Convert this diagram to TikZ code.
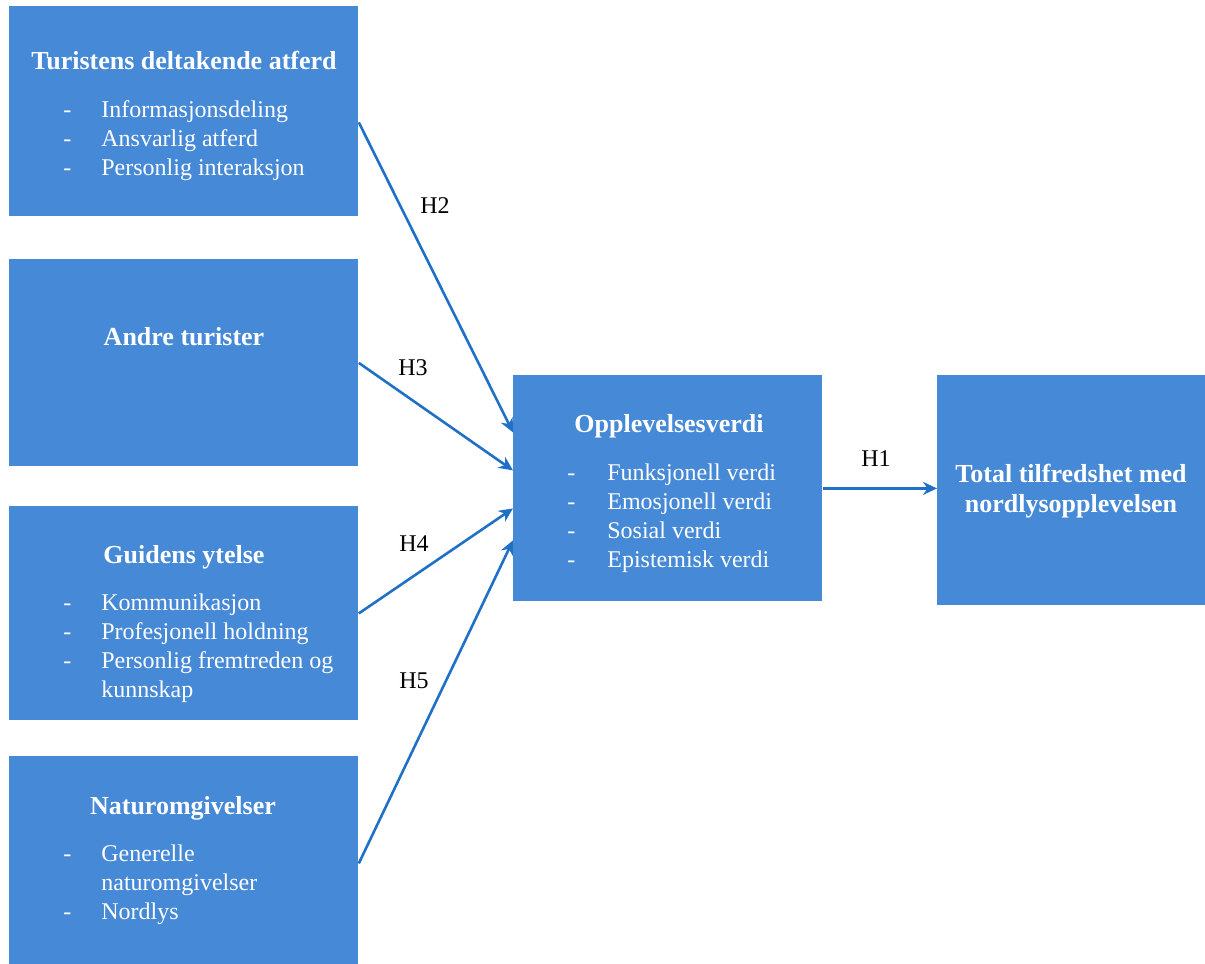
\documentclass[tikz,border=0pt]{standalone}
\usepackage{fontspec}
\setmainfont{Liberation Serif}
\usetikzlibrary{arrows.meta}

\definecolor{boxblue}{HTML}{4689D6}
\definecolor{arrowblue}{HTML}{1F70C6}

\begin{document}
\begin{tikzpicture}[x=0.5pt, y=-0.5pt,
	box/.style={fill=boxblue, draw=none, inner sep=0pt, anchor=north west},
	title/.style={anchor=base, text=white, inner sep=0pt, font=\fontsize{13}{15}\selectfont\bfseries},
	items/.style={anchor=base west, text=white, inner sep=0pt, font=\fontsize{12}{14.5}\selectfont},
	hyp/.style={anchor=base, inner sep=0pt, font=\fontsize{12}{14.5}\selectfont},
	link/.style={line width=1.3pt, -{Stealth[length=7pt, width=6.5pt]}, color=arrowblue}]
	\useasboundingbox (0,0) rectangle (1205,964);
	%
	% boxes
	\node[box, minimum width=174.5pt, minimum height=105pt] (tur) at (9,6) {};
	\node[box, minimum width=174.5pt, minimum height=103.5pt] (andre) at (9,259) {};
	\node[box, minimum width=174.5pt, minimum height=107pt] (guide) at (9,506) {};
	\node[box, minimum width=174.5pt, minimum height=107pt] (natur) at (9,756) {};
	\node[box, minimum width=154.5pt, minimum height=113pt] (opp) at (513,375) {};
	\node[box, minimum width=134pt, minimum height=115pt] (tot) at (937,375) {};
	%
	% titles
	\node[title] (tur-t) at (184,69) {Turistens deltakende atferd};
	\node[title] (andre-t) at (184,345) {Andre turister};
	\node[title] (guide-t) at (184,563) {Guidens ytelse};
	\node[title] (natur-t) at (183,814) {Naturomgivelser};
	\node[title] (opp-t) at (669,432) {Opplevelsesverdi};
	\node[title, align=center] (tot-t) at (1071,512) {Total tilfredshet med\\nordlysopplevelsen};
	%
	% lists
	\node[items] (tur-l) at (63,117) {\begin{tabular}[t]{@{}p{19pt}@{}l@{}}
		- & Informasjonsdeling\\
		- & Ansvarlig atferd\\
		- & Personlig interaksjon
	\end{tabular}};
	\node[items] (guide-l) at (63,610) {\begin{tabular}[t]{@{}p{19pt}@{}l@{}}
		- & Kommunikasjon\\
		- & Profesjonell holdning\\
		- & Personlig fremtreden og\\
		  & kunnskap
	\end{tabular}};
	\node[items] (natur-l) at (63,861) {\begin{tabular}[t]{@{}p{19pt}@{}l@{}}
		- & Generelle\\
		  & naturomgivelser\\
		- & Nordlys
	\end{tabular}};
	\node[items] (opp-l) at (567,480) {\begin{tabular}[t]{@{}p{20pt}@{}l@{}}
		- & Funksjonell verdi\\
		- & Emosjonell verdi\\
		- & Sosial verdi\\
		- & Epistemisk verdi
	\end{tabular}};
	%
	% hypotheses
	\draw[link] ([yshift=-5.5pt]tur.east) -- ([yshift=28pt]opp.west);
	\draw[link] (andre.east) -- ([yshift=9pt]opp.west);
	\draw[link] (guide.east) -- ([yshift=-10pt]opp.west);
	\draw[link] (natur.east) -- ([yshift=-26pt]opp.west);
	\draw[link] (opp.east) -- (opp.east -| tot.west);
	%
	\node[hyp] (h2) at (435,213) {H2};
	\node[hyp] (h3) at (413,375) {H3};
	\node[hyp] (h4) at (414,551) {H4};
	\node[hyp] (h5) at (414,688) {H5};
	\node[hyp] (h1) at (876,466) {H1};
\end{tikzpicture}
\end{document}
